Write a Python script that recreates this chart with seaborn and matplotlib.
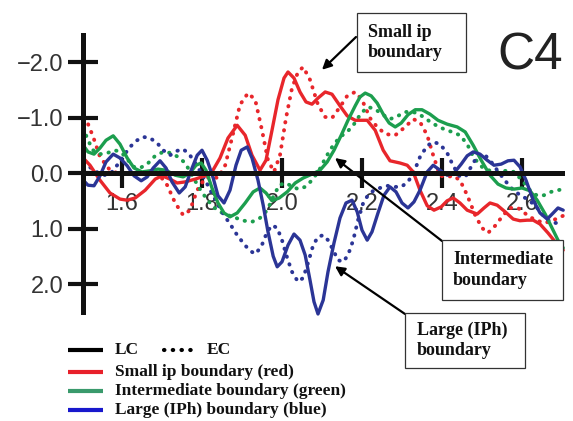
import matplotlib
matplotlib.use("Agg")
import matplotlib.pyplot as plt
from matplotlib.lines import Line2D
from matplotlib.patches import Rectangle
import seaborn as sns

# ---------------- data (time in s, amplitude in microvolts; negative up) ----------------
t_small_lc = [1.503, 1.520, 1.545, 1.570, 1.595, 1.613, 1.633, 1.658, 1.683, 1.700, 1.720, 1.738, 1.758, 1.783,
              1.808, 1.825, 1.845, 1.865, 1.888, 1.908, 1.925, 1.945, 1.960, 1.975, 1.990, 2.005, 2.015, 2.030,
              2.045, 2.060, 2.075, 2.090, 2.108, 2.125, 2.145, 2.163, 2.183, 2.213, 2.233, 2.253, 2.270, 2.295,
              2.313, 2.328, 2.345, 2.363, 2.380, 2.398, 2.413, 2.428, 2.445, 2.463, 2.488, 2.505, 2.520, 2.538,
              2.558, 2.578, 2.595, 2.613, 2.628, 2.645, 2.665, 2.683, 2.703]
v_small_lc = [-0.27, -0.14, 0.13, 0.36, 0.47, 0.49, 0.45, 0.31, 0.11, 0.05, 0.11, 0.18, 0.16, 0.11,
              0.05, -0.02, -0.27, -0.63, -0.86, -0.68, -0.32, -0.05, -0.23, -0.77, -1.32, -1.71, -1.82, -1.71,
              -1.46, -1.28, -1.24, -1.35, -1.46, -1.42, -1.21, -1.03, -0.95, -0.95, -0.77, -0.41, -0.22, -0.18,
              -0.14, -0.02, 0.31, 0.59, 0.67, 0.61, 0.50, 0.45, 0.54, 0.67, 0.74, 0.63, 0.54, 0.58,
              0.70, 0.83, 0.86, 0.85, 0.85, 0.92, 1.08, 1.24, 1.39]

t_small_ec = [1.503, 1.513, 1.528, 1.545, 1.570, 1.595, 1.620, 1.645, 1.670, 1.695, 1.713, 1.733, 1.753, 1.770,
              1.788, 1.808, 1.825, 1.840, 1.858, 1.875, 1.895, 1.915, 1.933, 1.950, 1.965, 1.980, 1.995, 2.010,
              2.025, 2.040, 2.053, 2.070, 2.090, 2.108, 2.125, 2.145, 2.163, 2.183, 2.200, 2.220, 2.240, 2.260,
              2.283, 2.308, 2.328, 2.345, 2.363, 2.378, 2.395, 2.413, 2.428, 2.445, 2.463, 2.483, 2.500, 2.515,
              2.533, 2.553, 2.570, 2.590, 2.610, 2.633, 2.658, 2.678, 2.703]
v_small_ec = [-0.99, -0.92, -0.65, -0.29, -0.05, 0.02, 0.00, -0.02, -0.02, 0.05, 0.22, 0.54, 0.76, 0.67,
              0.31, 0.09, 0.07, 0.09, -0.14, -0.63, -1.23, -1.44, -1.32, -0.77, -0.23, -0.02, -0.32, -0.99,
              -1.53, -1.82, -1.91, -1.68, -1.23, -1.01, -0.99, -1.19, -1.39, -1.46, -1.32, -0.99, -0.81, -0.70,
              -0.68, -0.83, -0.97, -0.92, -0.68, -0.32, 0.05, 0.07, 0.05, 0.13, 0.40, 0.76, 0.99, 1.08,
              0.95, 0.76, 0.63, 0.63, 0.74, 0.85, 0.90, 0.85, 0.77]

t_inter_lc = [1.503, 1.515, 1.530, 1.545, 1.560, 1.578, 1.595, 1.613, 1.630, 1.650, 1.670, 1.690, 1.710, 1.733,
              1.753, 1.770, 1.785, 1.798, 1.810, 1.825, 1.840, 1.855, 1.870, 1.888, 1.908, 1.928, 1.945, 1.960,
              1.975, 1.993, 2.013, 2.033, 2.053, 2.075, 2.095, 2.113, 2.130, 2.148, 2.165, 2.183, 2.195, 2.208,
              2.223, 2.238, 2.253, 2.268, 2.283, 2.298, 2.315, 2.333, 2.350, 2.370, 2.390, 2.413, 2.438, 2.458,
              2.478, 2.498, 2.520, 2.540, 2.560, 2.580, 2.600, 2.620, 2.638, 2.658, 2.675, 2.690, 2.703]
v_inter_lc = [-0.50, -0.38, -0.34, -0.45, -0.59, -0.67, -0.52, -0.27, -0.09, -0.02, -0.04, -0.07, -0.05, 0.04,
              0.07, 0.00, -0.14, -0.18, -0.05, 0.27, 0.54, 0.72, 0.79, 0.72, 0.54, 0.34, 0.27, 0.36,
              0.50, 0.45, 0.34, 0.18, 0.09, 0.02, -0.05, -0.20, -0.41, -0.68, -0.95, -1.21, -1.37, -1.44,
              -1.39, -1.26, -1.06, -0.90, -0.83, -0.90, -1.05, -1.14, -1.14, -1.06, -0.95, -0.88, -0.83, -0.74,
              -0.50, -0.23, 0.04, 0.20, 0.27, 0.29, 0.27, 0.32, 0.49, 0.74, 0.99, 1.21, 1.35]

t_inter_ec = [1.503, 1.515, 1.528, 1.545, 1.563, 1.583, 1.600, 1.615, 1.630, 1.645, 1.663, 1.683, 1.703, 1.723,
              1.740, 1.758, 1.775, 1.793, 1.810, 1.828, 1.845, 1.865, 1.885, 1.905, 1.925, 1.945, 1.963, 1.978,
              1.993, 2.008, 2.023, 2.040, 2.058, 2.075, 2.093, 2.110, 2.128, 2.145, 2.163, 2.180, 2.198, 2.215,
              2.233, 2.250, 2.270, 2.290, 2.310, 2.328, 2.345, 2.365, 2.385, 2.405, 2.425, 2.445, 2.463, 2.480,
              2.500, 2.520, 2.540, 2.560, 2.580, 2.600, 2.620, 2.638, 2.655, 2.673, 2.690, 2.703]
v_inter_ec = [-0.81, -0.59, -0.41, -0.34, -0.36, -0.41, -0.36, -0.23, -0.11, -0.09, -0.16, -0.31, -0.38, -0.36,
              -0.29, -0.18, 0.04, 0.27, 0.45, 0.61, 0.70, 0.76, 0.81, 0.86, 0.88, 0.81, 0.67, 0.43,
              0.22, 0.18, 0.23, 0.29, 0.25, 0.13, -0.05, -0.29, -0.50, -0.65, -0.74, -0.88, -1.08, -1.19,
              -1.15, -1.06, -0.97, -1.03, -1.10, -1.10, -1.05, -0.95, -0.86, -0.79, -0.74, -0.68, -0.52, -0.27,
              -0.11, -0.04, -0.02, -0.04, -0.02, 0.13, 0.31, 0.41, 0.40, 0.34, 0.31, 0.29]

t_large_lc = [1.503, 1.515, 1.530, 1.545, 1.560, 1.578, 1.595, 1.613, 1.630, 1.648, 1.663, 1.678, 1.695, 1.710,
              1.725, 1.743, 1.758, 1.773, 1.788, 1.800, 1.813, 1.828, 1.840, 1.855, 1.870, 1.885, 1.898, 1.913,
              1.925, 1.940, 1.953, 1.965, 1.978, 1.988, 2.000, 2.015, 2.030, 2.045, 2.058, 2.070, 2.080, 2.090,
              2.103, 2.115, 2.130, 2.145, 2.160, 2.175, 2.188, 2.200, 2.213, 2.225, 2.240, 2.255, 2.270, 2.285,
              2.300, 2.315, 2.330, 2.345, 2.363, 2.378, 2.395, 2.413, 2.430, 2.448, 2.463, 2.478, 2.495, 2.513,
              2.530, 2.548, 2.565, 2.580, 2.595, 2.610, 2.628, 2.645, 2.663, 2.678, 2.690, 2.703]
v_large_lc = [0.13, 0.22, 0.23, 0.05, -0.20, -0.34, -0.27, -0.13, 0.05, 0.14, 0.07, -0.09, -0.22, -0.09,
              0.16, 0.36, 0.25, -0.05, -0.32, -0.41, -0.23, 0.09, 0.41, 0.54, 0.31, -0.14, -0.41, -0.47,
              -0.27, 0.13, 0.58, 1.06, 1.50, 1.69, 1.60, 1.30, 1.10, 1.21, 1.48, 1.93, 2.32, 2.54,
              2.29, 1.78, 1.26, 0.81, 0.54, 0.49, 0.70, 1.03, 1.21, 1.06, 0.72, 0.40, 0.25, 0.34,
              0.54, 0.63, 0.52, 0.31, -0.02, -0.14, -0.05, 0.04, 0.00, -0.16, -0.31, -0.38, -0.34, -0.23,
              -0.14, -0.16, -0.22, -0.23, -0.11, 0.13, 0.49, 0.72, 0.83, 0.72, 0.63, 0.67]

t_large_ec = [1.503, 1.515, 1.530, 1.545, 1.560, 1.575, 1.590, 1.605, 1.620, 1.638, 1.653, 1.670, 1.688, 1.703,
              1.720, 1.738, 1.753, 1.768, 1.783, 1.798, 1.813, 1.828, 1.843, 1.858, 1.873, 1.888, 1.903, 1.918,
              1.933, 1.948, 1.963, 1.975, 1.988, 2.000, 2.013, 2.025, 2.040, 2.053, 2.065, 2.078, 2.090, 2.103,
              2.115, 2.128, 2.140, 2.153, 2.165, 2.178, 2.190, 2.203, 2.215, 2.230, 2.245, 2.263, 2.280, 2.298,
              2.315, 2.330, 2.345, 2.363, 2.378, 2.395, 2.413, 2.428, 2.445, 2.460, 2.475, 2.490, 2.505, 2.520,
              2.538, 2.558, 2.578, 2.598, 2.618, 2.638, 2.658, 2.675, 2.690, 2.703]
v_large_ec = [-0.09, -0.13, -0.05, 0.02, 0.04, -0.02, -0.16, -0.32, -0.47, -0.59, -0.65, -0.63, -0.54, -0.41,
              -0.32, -0.40, -0.43, -0.34, -0.18, 0.00, 0.20, 0.41, 0.61, 0.79, 0.95, 1.12, 1.26, 1.39,
              1.46, 1.33, 1.06, 0.94, 0.99, 1.21, 1.53, 1.78, 1.96, 1.89, 1.62, 1.30, 1.15, 1.12,
              1.21, 1.39, 1.57, 1.60, 1.48, 1.21, 0.85, 0.54, 0.40, 0.31, 0.27, 0.23, 0.25, 0.25,
              0.16, -0.02, -0.29, -0.49, -0.56, -0.52, -0.36, -0.13, 0.07, 0.05, -0.14, -0.32, -0.34, -0.23,
              -0.05, 0.14, 0.31, 0.41, 0.49, 0.63, 0.81, 0.90, 0.90, 0.86]

x_ticks = [1.6, 1.8, 2.0, 2.2, 2.4, 2.6]
x_tick_labels = ["1.6", "1.8", "2.0", "2.2", "2.4", "2.6"]
y_ticks = [-2.0, -1.0, 0.0, 1.0, 2.0]
y_tick_labels = ["\u22122.0", "\u22121.0", "0.0", "1.0", "2.0"]

legend_labels = ["LC", "EC", "Small ip boundary (red)", "Intermediate boundary (green)",
                 "Large (IPh) boundary (blue)"]
box_labels = ["Small ip\nboundary", "Intermediate\nboundary", "Large (IPh)\nboundary"]
panel_title = "C4"

# ---------------- style ----------------
sns.set_style("white")
plt.rcParams["font.family"] = ["Liberation Sans", "DejaVu Sans"]

RED = "#e8262b"
GREEN = "#1c9e4e"
BLUE = "#2b3596"
LEG_RED = "#e8202a"
LEG_GREEN = "#3a9a6c"
LEG_BLUE = "#1818cc"
DOT = (0, (0.1, 2.0))

W, H = 573, 421
fig = plt.figure(figsize=(W / 100, H / 100), dpi=100)


def fx(px):
    return px / W


def fy(py):
    return 1 - py / H


ax = fig.add_axes([fx(83), fy(320), (565 - 83) / W, (320 - 30) / H])
ax.set_facecolor("none")

series = [
    (t_small_ec, v_small_ec, RED, True),
    (t_inter_ec, v_inter_ec, GREEN, True),
    (t_large_ec, v_large_ec, BLUE, True),
    (t_small_lc, v_small_lc, RED, False),
    (t_inter_lc, v_inter_lc, GREEN, False),
    (t_large_lc, v_large_lc, BLUE, False),
]
for t, v, c, dotted in series:
    if dotted:
        sns.lineplot(x=t, y=v, ax=ax, color=c, linewidth=2.8, linestyle=DOT,
                     dash_capstyle="round", estimator=None, sort=False, errorbar=None)
    else:
        sns.lineplot(x=t, y=v, ax=ax, color=c, linewidth=2.4, solid_joinstyle="round",
                     estimator=None, sort=False, errorbar=None)

ax.set_xlim(1.5025, 2.7075)
ax.set_ylim(2.6486, -2.5766)

for s in ["top", "right"]:
    ax.spines[s].set_visible(False)
ax.spines["left"].set_position(("data", 1.5025))
ax.spines["bottom"].set_position(("data", 0.0))
ax.spines["left"].set_bounds(-2.486, 2.505)
ax.spines["bottom"].set_bounds(1.5025, 2.70)
for s in ["left", "bottom"]:
    ax.spines[s].set_linewidth(3.6)
    ax.spines[s].set_color("#111111")
    ax.spines[s].set_zorder(3)

ax.set_xticks(x_ticks)
ax.set_xticklabels(x_tick_labels)
ax.set_yticks(y_ticks)
ax.set_yticklabels(y_tick_labels)
ax.tick_params(axis="both", which="major", bottom=True, left=True, top=False, right=False,
               direction="inout", length=21.5, width=3.0, color="#111111",
               labelsize=17, labelcolor="#333333")
ax.tick_params(axis="y", pad=3.5)
ax.tick_params(axis="x", pad=4.0)
ax.set_xlabel("")
ax.set_ylabel("")
ax.grid(False)

# panel title
fig.text(fx(497), fy(70), panel_title, fontsize=37, color="#222222", ha="left", va="baseline")

# annotation boxes
serif = dict(family="Liberation Serif", weight="bold", color="#111111")
boxes = [
    (357, 13, 466, 72, 368, box_labels[0], (2.100, -1.86), (356, 37)),
    (442, 240, 563, 300, 453, box_labels[1], (2.1325, -0.27), (442, 241)),
    (405, 313, 525, 368, 417, box_labels[2], (2.1325, 1.68), (405, 314)),
]
for x0, y0, x1, y1, tx, lab, head, tail in boxes:
    fig.add_artist(Rectangle((fx(x0), fy(y1)), (x1 - x0) / W, (y1 - y0) / H,
                             transform=fig.transFigure, facecolor="white",
                             edgecolor="#333333", linewidth=0.9, zorder=5))
    fig.text(fx(tx), fy((y0 + y1) / 2), lab, fontsize=13, ha="left", va="center",
             linespacing=1.25, zorder=6, **serif)
    ax.annotate("", xy=head, xycoords="data", xytext=(fx(tail[0]), fy(tail[1])),
                textcoords="figure fraction", annotation_clip=False,
                arrowprops=dict(arrowstyle="-|>", color="black", lw=1.6,
                                mutation_scale=14, shrinkA=0, shrinkB=0))

# legend (drawn manually)
leg_rows = [
    (350, "black", legend_labels[0]),
    (372, LEG_RED, legend_labels[2]),
    (391, LEG_GREEN, legend_labels[3]),
    (410, LEG_BLUE, legend_labels[4]),
]
for py, c, lab in leg_rows:
    fig.add_artist(Line2D([fx(68), fx(103)], [fy(py), fy(py)], transform=fig.transFigure,
                          color=c, linewidth=3.0, solid_capstyle="butt"))
    fig.text(fx(115), fy(py), lab, fontsize=12.5, ha="left", va="center", **serif)
fig.add_artist(Line2D([fx(164), fx(193)], [fy(350), fy(350)], transform=fig.transFigure,
                      color="black", linewidth=3.0, linestyle=(0, (0.1, 2.0)),
                      dash_capstyle="round"))
fig.text(fx(207), fy(350), legend_labels[1], fontsize=12.5, ha="left", va="center", **serif)

fig.savefig("out.png", dpi=100)
